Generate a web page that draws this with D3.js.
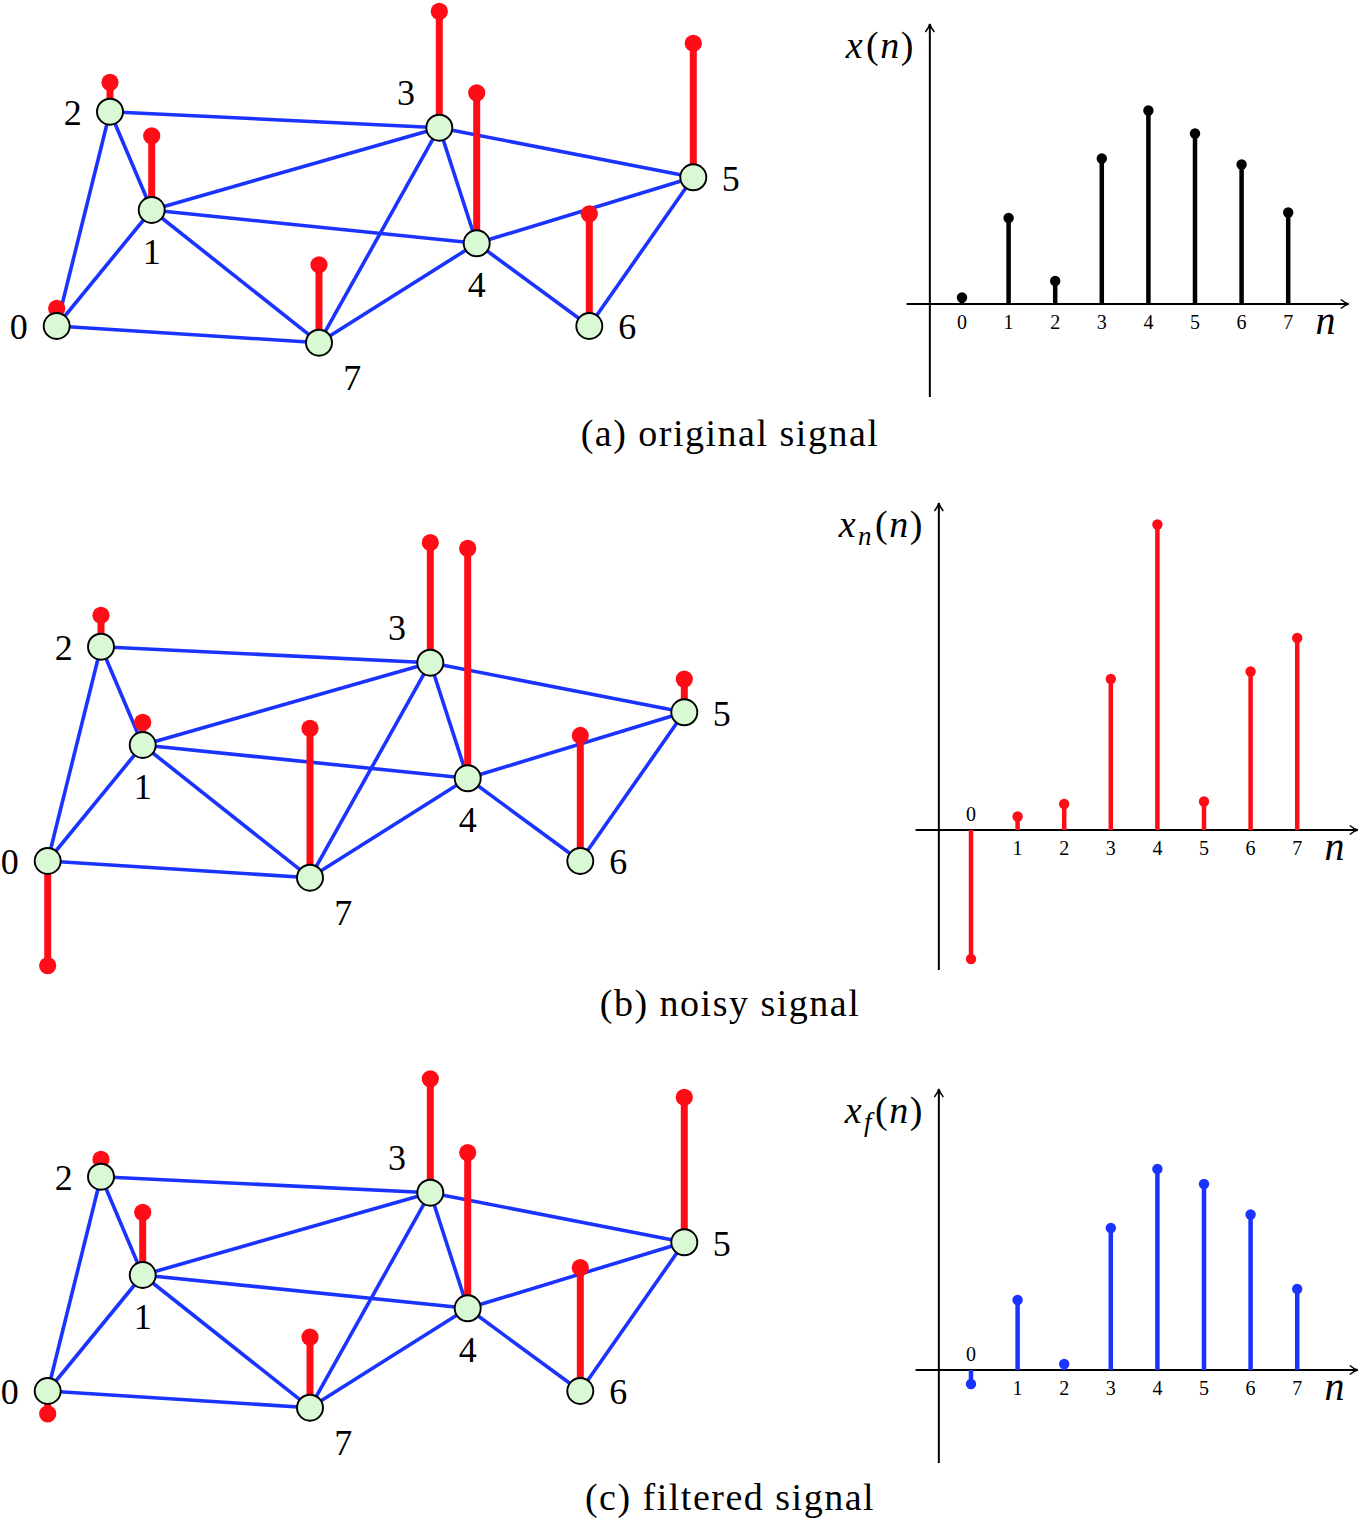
<!DOCTYPE html>
<html lang="en">
<head>
  <meta charset="UTF-8">
  <title>Graph signal: original, noisy, filtered</title>

  <style>
    body { margin: 0; background: #ffffff; }
    svg { display: block; background: #ffffff; }
    .edge { stroke: #1a33ff; stroke-width: 3.6; }
    .node { fill: #d9f8d4; stroke: #000000; stroke-width: 1.9; }
    .gstem { stroke: #ff0d17; stroke-width: 7; }
    .gdot { fill: #ff0d17; }
    .axis { stroke: #000000; stroke-width: 2; fill: none; }
    .serif { font-family: "Liberation Serif", "DejaVu Serif", serif; fill: #000000; }
  </style>

  <script type="text/javascript" src="https://d3js.org/d3.v7.min.js"></script>
</head>

<body>
</body>

<script type="text/javascript">

  // vertices of the graph and where they sit in panel (a)
  var vertices = [0, 1, 2, 3, 4, 5, 6, 7];
  var vertexX = [56.7, 151.7, 110, 439.3, 476.7, 693.3, 589.3, 319];
  var vertexY = [326, 210, 111.7, 127.7, 243.3, 177.3, 326, 342.7];
  var edges = [[0, 1], [0, 2], [0, 7], [1, 2], [1, 3], [1, 4], [1, 7], [2, 3],
               [3, 4], [3, 5], [3, 7], [4, 5], [4, 6], [4, 7], [5, 6]];

  // signal values on the vertices
  var xOriginal = [0.13, 1.72, 0.46, 2.91, 3.87, 3.41, 2.79, 1.83];
  var xNoisy    = [-2.58, 0.27, 0.52, 3.02, 6.11, 0.57, 3.17, 3.84];
  var xFiltered = [-0.28, 1.40, 0.12, 2.84, 4.02, 3.72, 3.11, 1.62];

  var tickLabels = ["0", "1", "2", "3", "4", "5", "6", "7"];
  var captions = ["(a) original signal", "(b) noisy signal", "(c) filtered signal"];
  var yNames = [null, "n", "f"];   // subscript of x(n)

  // layout of each row
  var labelOffset = [[-38, 0.7], [0, 41.7], [-37.3, 1.6], [-33.3, -34.4],
                     [0, 41.7], [37.4, 1.7], [38, 0.7], [33.3, 35.6]];
  var rows = [
    {signal: xOriginal, color: "#000000", gdx: 0,  gdy: 0,    x0: 962, base: 304,  yTop: 5.6,  yBot: -1.86, capY: 446},
    {signal: xNoisy,    color: "#ff0d17", gdx: -9, gdy: 535,  x0: 971, base: 830,  yTop: 6.54, yBot: -2.8,  capY: 1016},
    {signal: xFiltered, color: "#1a33ff", gdx: -9, gdy: 1065, x0: 971, base: 1370, yTop: 5.62, yBot: -1.86, capY: 1510}
  ];

  var nodeR = 13;

  var svg = d3.select("body")
    .append("svg")
    .attr("width", 1363)
    .attr("height", 1521);

  svg.append("defs").append("marker")
    .attr("id", "arrow")
    .attr("viewBox", "-10 -6 12 12")
    .attr("refX", 0)
    .attr("refY", 0)
    .attr("markerWidth", 12)
    .attr("markerHeight", 12)
    .attr("markerUnits", "userSpaceOnUse")
    .attr("orient", "auto")
    .append("path")
    .attr("d", "M-8,-4.5 C-5,-2 -2,-0.5 0,0 C-2,0.5 -5,2 -8,4.5")
    .attr("fill", "none")
    .attr("stroke", "#000")
    .attr("stroke-width", 1.5);

  rows.forEach(function(row, k) {
    drawGraph(svg.append("g").attr("class", "graph"), row);
    drawStems(svg.append("g").attr("class", "stemplot"), row, k);

    svg.append("text")
      .attr("class", "serif")
      .attr("x", 730)
      .attr("y", row.capY)
      .attr("text-anchor", "middle")
      .style("font-size", "38px")
      .style("letter-spacing", "1.5px")
      .text(captions[k]);
  });

  function drawGraph(g, row) {
    var gx = d3.scaleLinear().domain([0, 1]).range([row.gdx, row.gdx + 1]);
    var gy = d3.scaleLinear().domain([0, 1]).range([row.gdy, row.gdy + 1]);
    // stem length on the graph: starts at the rim of the vertex
    var h = d3.scaleLinear().domain([0, 1]).range([0, 35.5]);

    g.selectAll(".edge").data(edges).enter()
      .append("line")
      .attr("class", "edge")
      .attr("x1", function(d) { return gx(vertexX[d[0]]); })
      .attr("y1", function(d) { return gy(vertexY[d[0]]); })
      .attr("x2", function(d) { return gx(vertexX[d[1]]); })
      .attr("y2", function(d) { return gy(vertexY[d[1]]); });

    function tipY(i) {
      var v = row.signal[i];
      var s = v < 0 ? 1 : -1;
      return gy(vertexY[i]) + s * (nodeR + h(Math.abs(v)));
    }

    g.selectAll(".gstem").data(vertices).enter()
      .append("line")
      .attr("class", "gstem")
      .attr("x1", function(i) { return gx(vertexX[i]); })
      .attr("x2", function(i) { return gx(vertexX[i]); })
      .attr("y1", function(i) { return gy(vertexY[i]); })
      .attr("y2", tipY);

    g.selectAll(".gdot").data(vertices).enter()
      .append("circle")
      .attr("class", "gdot")
      .attr("r", 8.6)
      .attr("cx", function(i) { return gx(vertexX[i]); })
      .attr("cy", tipY);

    g.selectAll(".node").data(vertices).enter()
      .append("circle")
      .attr("class", "node")
      .attr("r", nodeR)
      .attr("cx", function(i) { return gx(vertexX[i]); })
      .attr("cy", function(i) { return gy(vertexY[i]); });

    g.selectAll(".vlabel").data(vertices).enter()
      .append("text")
      .attr("class", "serif vlabel")
      .attr("text-anchor", "middle")
      .style("font-size", "36px")
      .attr("x", function(i) { return gx(vertexX[i] + labelOffset[i][0]); })
      .attr("y", function(i) { return gy(vertexY[i] + labelOffset[i][1]) + 12; })
      .text(function(i) { return tickLabels[i]; });
  }

  function drawStems(g, row, k) {
    var x = d3.scaleLinear().domain([0, 7]).range([row.x0, row.x0 + 7 * 46.6]);
    var y = d3.scaleLinear().domain([0, 1]).range([row.base, row.base - 50]);
    var axisN = -0.69;

    g.append("line")
      .attr("class", "axis")
      .attr("x1", x(-1.19)).attr("x2", x(8.3))
      .attr("y1", y(0)).attr("y2", y(0))
      .attr("marker-end", "url(#arrow)");

    g.append("line")
      .attr("class", "axis")
      .attr("x1", x(axisN)).attr("x2", x(axisN))
      .attr("y1", y(row.yBot)).attr("y2", y(row.yTop))
      .attr("marker-end", "url(#arrow)");

    g.selectAll(".stem").data(row.signal).enter()
      .append("line")
      .attr("class", "stem")
      .attr("stroke", row.color)
      .attr("stroke-width", 4.5)
      .attr("x1", function(d, i) { return x(i); })
      .attr("x2", function(d, i) { return x(i); })
      .attr("y1", y(0))
      .attr("y2", function(d) { return y(d); });

    g.selectAll(".dot").data(row.signal).enter()
      .append("circle")
      .attr("class", "dot")
      .attr("fill", row.color)
      .attr("r", 5.2)
      .attr("cx", function(d, i) { return x(i); })
      .attr("cy", function(d) { return y(d); });

    g.selectAll(".tick").data(row.signal).enter()
      .append("text")
      .attr("class", "serif tick")
      .attr("text-anchor", "middle")
      .style("font-size", "20px")
      .attr("x", function(d, i) { return x(i); })
      .attr("y", function(d) { return d < 0 ? y(0) - 9.5 : y(0) + 24.5; })
      .text(function(d, i) { return tickLabels[i]; });

    // n on the horizontal axis
    g.append("text")
      .attr("class", "serif")
      .attr("x", x(7.8))
      .attr("y", y(0) + 30)
      .attr("text-anchor", "middle")
      .style("font-size", "40px")
      .style("font-style", "italic")
      .text("n");

    // x(n), x_n(n), x_f(n)
    var t = g.append("text")
      .attr("class", "serif")
      .attr("x", x(axisN) - 15)
      .attr("y", y(row.yTop) + 34)
      .attr("text-anchor", "end")
      .style("font-size", "38px")
      .style("letter-spacing", "1.5px");
    t.append("tspan").style("font-style", "italic").text("x");
    var sub = yNames[k];
    if (sub) {
      t.append("tspan").style("font-style", "italic").style("font-size", "27px")
        .attr("dy", 8).attr("dx", 1).text(sub);
    }
    t.append("tspan").attr("dy", sub ? -8 : 0).attr("dx", 2).text("(");
    t.append("tspan").style("font-style", "italic").text("n");
    t.append("tspan").text(")");
  }

</script>

</html>
